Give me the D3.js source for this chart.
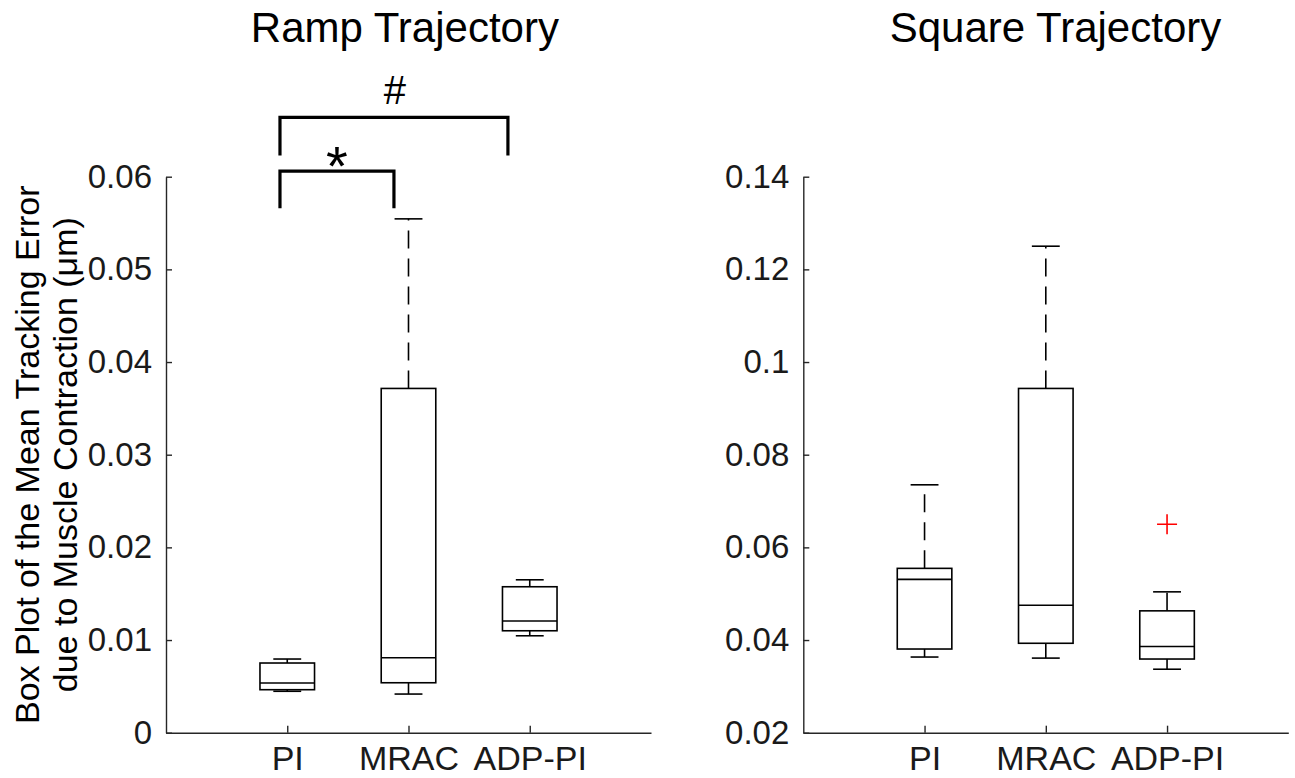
<!DOCTYPE html>
<html>
<head>
<meta charset="utf-8">
<script src="https://cdn.jsdelivr.net/npm/d3@7"></script>
<style>
  body { margin: 0; background: #fff; }
  svg { display: block; font-family: "Liberation Sans", Arial, sans-serif; }
</style>
</head>
<body>
<div id="chart"></div>
<script>
// categories shared by both panels
const groups = ["PI", "MRAC", "ADP-PI"];

// Ramp trajectory: [lower whisker, q1, median, q3, upper whisker]
const rampStats = [
  [0.00447, 0.00464, 0.00536, 0.00752, 0.00795],
  [0.00417, 0.00539, 0.00809, 0.03715, 0.05545],
  [0.01046, 0.0110, 0.01205, 0.01575, 0.0165]
];
const rampOutliers = [[], [], []];
const rampTicks = [0, 0.01, 0.02, 0.03, 0.04, 0.05, 0.06];

// Square trajectory
const squareStats = [
  [0.03633, 0.03806, 0.0531, 0.05547, 0.0735],
  [0.0361, 0.0393, 0.0475, 0.0943, 0.125],
  [0.0337, 0.0359, 0.0386, 0.0463, 0.0504]
];
const squareOutliers = [[], [], [0.065]];
const squareTicks = [0.02, 0.04, 0.06, 0.08, 0.1, 0.12, 0.14];

// significance brackets on the ramp panel (x in category units, y in data units)
const brackets = [
  { x1: 0.94, x2: 2.82, top: 0.0664, leg: 0.0623, label: "#" },
  { x1: 0.94, x2: 1.88, top: 0.0606, leg: 0.0566, label: "*" }
];

const yLabelLines = ["Box Plot of the Mean Tracking Error", "due to Muscle Contraction (\u03bcm)"];

const width = 1295, height = 778;
const svg = d3.select("#chart").append("svg")
  .attr("width", width)
  .attr("height", height);

const plotTop = 176.7, plotBottom = 732.7;
const axisColor = "#262626";

function drawPanel(opts) {
  const x = d3.scaleLinear().domain([0, 4]).range([opts.left, opts.left + 485]);
  const y = d3.scaleLinear().domain(opts.domain).range([plotBottom, plotTop]);
  const g = svg.append("g");

  // axes
  const yAxis = g.append("g")
    .attr("transform", `translate(${opts.left},0)`)
    .call(d3.axisLeft(y).tickValues(opts.ticks).tickFormat(d3.format("~g"))
      .tickSizeInner(-6).tickSizeOuter(0).tickPadding(14));
  const xAxis = g.append("g")
    .attr("transform", `translate(0,${plotBottom})`)
    .call(d3.axisBottom(x).tickValues([1, 2, 3]).tickFormat((d) => groups[d - 1])
      .tickSizeInner(-7).tickSizeOuter(0).tickPadding(13));
  [yAxis, xAxis].forEach((a) => {
    a.select(".domain").attr("stroke", axisColor).attr("stroke-width", 1.4);
    a.selectAll(".tick line").attr("stroke", axisColor).attr("stroke-width", 1.4);
    a.selectAll(".tick text").attr("fill", "#1a1a1a");
  });
  yAxis.selectAll(".tick text").style("font-size", "33px");
  xAxis.selectAll(".tick text").style("font-size", "34px");

  const boxW = 0.45, capW = 0.23;
  const boxes = g.selectAll(".box")
    .data(opts.stats)
    .enter()
    .append("g")
    .attr("class", "box");

  // whiskers
  boxes.append("line")
    .attr("x1", (d, i) => x(i + 1)).attr("x2", (d, i) => x(i + 1))
    .attr("y1", (d) => y(d[3])).attr("y2", (d) => y(d[4]))
    .attr("stroke", "#000").attr("stroke-width", 1.6)
    .attr("stroke-dasharray", "18,10");
  boxes.append("line")
    .attr("x1", (d, i) => x(i + 1)).attr("x2", (d, i) => x(i + 1))
    .attr("y1", (d) => y(d[1])).attr("y2", (d) => y(d[0]))
    .attr("stroke", "#000").attr("stroke-width", 1.6)
    .attr("stroke-dasharray", "18,10");
  // caps
  [0, 4].forEach((k) => {
    boxes.append("line")
      .attr("x1", (d, i) => x(i + 1 - capW / 2)).attr("x2", (d, i) => x(i + 1 + capW / 2))
      .attr("y1", (d) => y(d[k])).attr("y2", (d) => y(d[k]))
      .attr("stroke", "#000").attr("stroke-width", 1.6);
  });
  // box
  boxes.append("rect")
    .attr("x", (d, i) => x(i + 1 - boxW / 2))
    .attr("width", x(boxW) - x(0))
    .attr("y", (d) => y(d[3]))
    .attr("height", (d) => y(d[1]) - y(d[3]))
    .attr("fill", "none")
    .attr("stroke", "#000").attr("stroke-width", 1.6);
  // median
  boxes.append("line")
    .attr("x1", (d, i) => x(i + 1 - boxW / 2)).attr("x2", (d, i) => x(i + 1 + boxW / 2))
    .attr("y1", (d) => y(d[2])).attr("y2", (d) => y(d[2]))
    .attr("stroke", "#000").attr("stroke-width", 1.6);

  // outliers
  const pts = [];
  opts.outliers.forEach((arr, i) => arr.forEach((v) => pts.push({ i: i + 1, v: v })));
  const plus = g.selectAll(".outlier").data(pts).enter().append("g")
    .attr("transform", (d) => `translate(${x(d.i)},${y(d.v)})`);
  plus.append("path")
    .attr("d", "M-10,0H10M0,-10V10")
    .attr("stroke", "#ff0000").attr("stroke-width", 1.6);

  // title
  svg.append("text")
    .attr("x", x(opts.titleX))
    .attr("y", 42)
    .attr("text-anchor", "middle")
    .style("font-size", "42px")
    .attr("fill", "#000")
    .text(opts.title);

  return { x, y };
}

const ramp = drawPanel({
  left: 166, domain: [0, 0.06], ticks: rampTicks, stats: rampStats,
  outliers: rampOutliers, title: "Ramp Trajectory", titleX: 1.97
});
drawPanel({
  left: 803.3, domain: [0.02, 0.14], ticks: squareTicks, stats: squareStats,
  outliers: squareOutliers, title: "Square Trajectory", titleX: 2.08
});

// significance brackets
const br = svg.append("g");
br.selectAll("path")
  .data(brackets)
  .enter()
  .append("path")
  .attr("d", (d) => `M${ramp.x(d.x1)},${ramp.y(d.leg)}V${ramp.y(d.top)}H${ramp.x(d.x2)}V${ramp.y(d.leg)}`)
  .attr("fill", "none")
  .attr("stroke", "#000")
  .attr("stroke-width", 3.2);

br.selectAll("text")
  .data(brackets)
  .enter()
  .append("text")
  .attr("x", (d) => ramp.x((d.x1 + d.x2) / 2) + (d.label === "#" ? 1 : 0))
  .attr("y", (d) => d.label === "#" ? ramp.y(d.top) - 13 : ramp.y(d.top) + 14)
  .attr("text-anchor", "middle")
  .style("font-size", (d) => d.label === "#" ? "40px" : "56px")
  .attr("fill", "#000")
  .text((d) => d.label);

// y label (two lines)
svg.selectAll(".ylabel")
  .data(yLabelLines)
  .enter()
  .append("text")
  .attr("class", "ylabel")
  .attr("transform", (d, i) => `translate(${39 + i * 38},${(plotTop + plotBottom) / 2}) rotate(-90)`)
  .attr("text-anchor", "middle")
  .style("font-size", "34px")
  .attr("fill", "#000")
  .text((d) => d);
</script>
</body>
</html>
